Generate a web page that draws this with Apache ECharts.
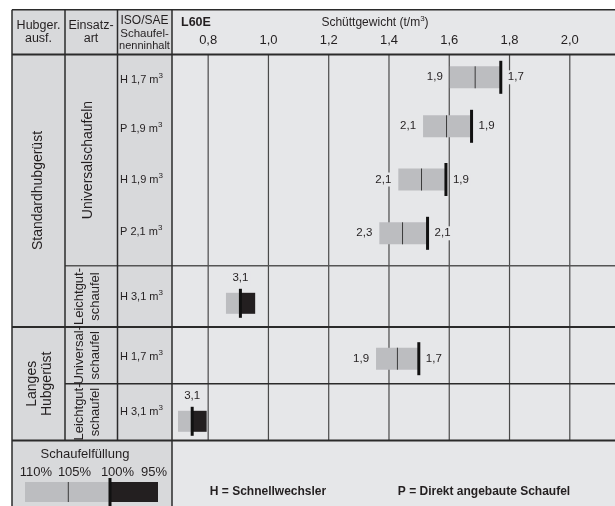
<!DOCTYPE html>
<html><head><meta charset="utf-8">
<script src="https://cdn.jsdelivr.net/npm/echarts@6/dist/echarts.min.js"></script>
<style>html,body{margin:0;padding:0;background:#fff}#c{width:615px;height:506px}</style>
</head><body><div id="c"></div>
<script>
// ---------- data ----------
const categories = ['H 1,7 m³', 'P 1,9 m³', 'H 1,9 m³', 'P 2,1 m³', 'H 3,1 m³', 'H 1,7 m³', 'H 3,1 m³'];
const fill110 = [1.602, 1.513, 1.431, 1.368, null, 1.357, null];
const fill105 = [1.686, 1.591, 1.508, 1.445, 0.859, 1.428, 0.700];
const fill100 = [1.771, 1.674, 1.589, 1.528, 0.907, 1.499, 0.747];
const fill95  = [null, null, null, null, 0.956, null, 0.795];
const labelLow = ['1,9', '2,1', '2,1', '2,3', '', '1,9', ''];
const labelNominal = ['1,7', '1,9', '1,9', '2,1', '', '1,7', ''];
const labelTop = ['', '', '', '', '3,1', '', '3,1'];
const ticks = [0.8, 1.0, 1.2, 1.4, 1.6, 1.8, 2.0];
const tickLabels = ['0,8', '1,0', '1,2', '1,4', '1,6', '1,8', '2,0'];
const legendLabels = ['110%', '105%', '100%', '95%'];
const xMin = 0.68, xMax = 2.15;

// ---------- layout / style ----------
const FONT = '"Liberation Sans", Arial, Helvetica, sans-serif';
const INK = '#231f20';
const PLOT_BG = '#e6e7e9';
const LEFT_BG = '#d8d9db';
const BAR_GRAY = '#bcbdc0';
const BLACK = '#231f20';
const rowCenters = [77.3, 126.3, 179.5, 233.3, 303.3, 358.7, 421.3];
const rowLabelY = [80, 129, 180, 232, 297, 357, 412];

const chart = echarts.init(document.getElementById('c'), null, {renderer: 'canvas'});

function T(x, y, text, size, o) {
  o = o || {};
  return {
    type: 'text', x: x, y: y, z: 30, rotation: o.rot || 0, silent: true,
    style: {
      text: text, fill: INK, fontFamily: FONT, fontSize: size,
      fontWeight: o.bold ? 'bold' : 'normal',
      align: o.align || 'center', verticalAlign: 'middle',
      lineHeight: o.lh || Math.round(size * 1.2),
      rich: o.rich
    }
  };
}
function L(x1, y1, x2, y2, w, c) {
  return {type: 'line', z: 25, silent: true, shape: {x1, y1, x2, y2}, style: {stroke: c || '#2b2b2b', lineWidth: w || 1.5}};
}
function R(x, y, w, h, c, z) {
  return {type: 'rect', z: z == null ? 0 : z, silent: true, shape: {x, y, width: w, height: h}, style: {fill: c}};
}

const supRich = {s: {fontSize: 8, fontFamily: FONT, fill: INK, verticalAlign: 'top', lineHeight: 8}};
const rot = Math.PI / 2;

const graphics = [
  R(172, 9.8, 443, 497, PLOT_BG, -1),
  R(12, 9.8, 160, 497, LEFT_BG, -1),
  // header texts
  T(38.5, 26, 'Hubger.', 12.5), T(38.5, 38.5, 'ausf.', 12.5),
  T(91, 26, 'Einsatz-', 12.5), T(91, 38.5, 'art', 12.5),
  T(144.5, 20.5, 'ISO/SAE', 12), T(144.5, 33.5, 'Schaufel-', 11.5), T(144.5, 46, 'nenninhalt', 11),
  T(181, 23, 'L60E', 12.5, {bold: true, align: 'left'}),
  T(375, 23, 'Schüttgewicht (t/m{s|3})', 12, {lh: 16, rich: supRich}),
  // left column labels
  T(38.5, 190.5, 'Standardhubgerüst', 14, {rot}),
  T(88, 160, 'Universalschaufeln', 14, {rot}),
  T(87, 296.5, 'Leichtgut-\nschaufel', 13, {rot, lh: 16}),
  T(40, 383.8, 'Langes\nHubgerüst', 14, {rot, lh: 15}),
  T(87, 355.3, 'Universal-\nschaufel', 13, {rot, lh: 16}),
  T(87, 412, 'Leichtgut-\nschaufel', 13, {rot, lh: 16}),
  // legend
  T(85, 454, 'Schaufelfüllung', 13),
  T(36, 472, legendLabels[0], 13), T(74.5, 472, legendLabels[1], 13),
  T(117.5, 472, legendLabels[2], 13), T(154, 472, legendLabels[3], 13),
  R(25, 482, 85, 20, BAR_GRAY, 20), R(110, 482, 48, 20, BLACK, 20),
  L(68.3, 482, 68.3, 502, 1, '#3a3a3a'), L(110, 478, 110, 506, 3, '#111'),
  T(268, 492, 'H = Schnellwechsler', 12, {bold: true}),
  T(484, 492, 'P = Direkt angebaute Schaufel', 12, {bold: true}),
  // table lines
  L(12, 9.8, 615, 9.8, 1.5),
  L(12, 54.5, 615, 54.5, 2),
  L(65, 265.7, 615, 265.7, 1.5, '#555'),
  L(12, 327, 615, 327, 2),
  L(65, 383.8, 615, 383.8, 1.5),
  L(12, 440.5, 615, 440.5, 2),
  L(12, 9.8, 12, 506, 1.5),
  L(65, 9.8, 65, 440.5, 1.5),
  L(117.5, 9.8, 117.5, 440.5, 1.5),
  L(172, 9.8, 172, 506, 1.5)
];
// row labels (category names with superscript)
categories.forEach((c, i) => {
  graphics.push(T(120, rowLabelY[i], c.replace('³', '{s|3}'), 11, {align: 'left', lh: 16, rich: supRich}));
});

const grids = [{left: 172, width: 443, top: 55, height: 385.5}];
const xAxes = [{
  gridIndex: 0, type: 'value', min: xMin, max: xMax, position: 'top',
  axisLine: {show: false}, axisTick: {show: false}, splitLine: {show: false},
  axisLabel: {
    customValues: ticks, margin: 8, fontSize: 13, color: INK, fontFamily: FONT,
    formatter: v => { const k = ticks.findIndex(t => Math.abs(t - v) < 1e-6); return k >= 0 ? tickLabels[k] : ''; }
  }
}];
const yAxes = [{gridIndex: 0, type: 'value', min: 0, max: 1, show: false}];
const series = [{
  type: 'custom', xAxisIndex: 0, yAxisIndex: 0, z: 1, silent: true, clip: false,
  data: ticks.map(v => [v, 0]), encode: {x: 0, y: 1},
  renderItem: (params, api) => {
    const cs = params.coordSys;
    const x = api.coord([api.value(0), 0])[0];
    return {type: 'line', shape: {x1: x, y1: cs.y, x2: x, y2: cs.y + cs.height}, style: {stroke: '#4a4a4a', lineWidth: 1.2}};
  }
}];

categories.forEach((c, i) => {
  grids.push({left: 172, width: 443, top: rowCenters[i] - 20, height: 40});
  xAxes.push({gridIndex: i + 1, type: 'value', min: xMin, max: xMax, show: false});
  yAxes.push({gridIndex: i + 1, type: 'category', data: [c], show: false});
  series.push({
    type: 'custom', xAxisIndex: i + 1, yAxisIndex: i + 1, z: 10, silent: true, clip: false,
    data: [[fill100[i], 0]], encode: {x: 0, y: 1},
    renderItem: (params, api) => {
      const yc = api.coord([api.value(0), 0])[1];
      const X = v => api.coord([v, 0])[0];
      const light = fill110[i] == null;
      const h = light ? 21 : 22, th = light ? 29 : 33;
      const x100 = X(api.value(0));
      const xStart = X(light ? fill105[i] : fill110[i]);
      const ch = [];
      ch.push({type: 'rect', shape: {x: xStart, y: yc - h / 2, width: x100 - xStart, height: h}, style: {fill: BAR_GRAY}});
      if (!light) {
        const x105 = X(fill105[i]);
        ch.push({type: 'line', shape: {x1: x105, y1: yc - h / 2, x2: x105, y2: yc + h / 2}, style: {stroke: '#3a3a3a', lineWidth: 1}});
      }
      if (fill95[i] != null) {
        const x95 = X(fill95[i]);
        ch.push({type: 'rect', shape: {x: x100, y: yc - h / 2, width: x95 - x100, height: h}, style: {fill: BLACK}});
      }
      ch.push({type: 'line', shape: {x1: x100, y1: yc - th / 2, x2: x100, y2: yc + th / 2}, style: {stroke: '#111', lineWidth: 3}});
      const ts = (t, al) => ({text: t, fill: INK, fontFamily: FONT, fontSize: 11.5, align: al, verticalAlign: 'middle', backgroundColor: PLOT_BG, padding: [1, 2]});
      if (labelLow[i]) ch.push({type: 'text', x: xStart - 5, y: yc, style: ts(labelLow[i], 'right')});
      if (labelNominal[i]) ch.push({type: 'text', x: x100 + 5, y: yc, style: ts(labelNominal[i], 'left')});
      if (labelTop[i]) ch.push({type: 'text', x: x100, y: yc - 25, style: ts(labelTop[i], 'center')});
      return {type: 'group', children: ch};
    }
  });
});

chart.setOption({
  backgroundColor: '#ffffff',
  animation: false,
  grid: grids, xAxis: xAxes, yAxis: yAxes, series: series,
  graphic: {elements: graphics}
});
</script></body></html>
